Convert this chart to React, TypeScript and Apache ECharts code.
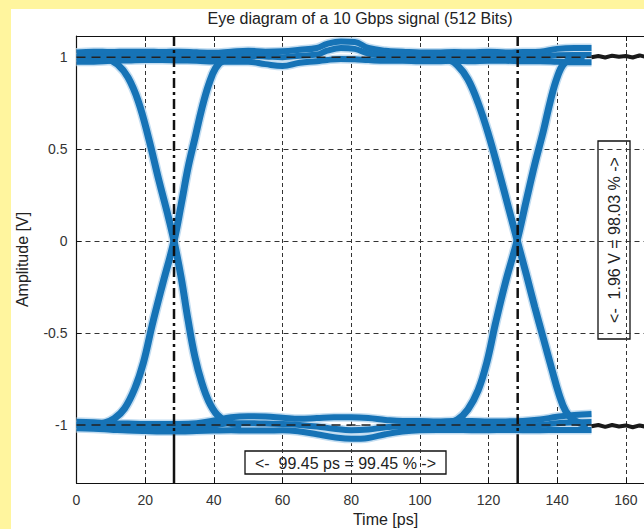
import React, { useEffect, useRef } from "react";
import * as echarts from "echarts";

const titleText = "Eye diagram of a 10 Gbps signal (512 Bits)";
const xName = "Time [ps]";
const yName = "Amplitude [V]";
const eyeWidthLabel = "<-  99.45 ps = 99.45 % ->";
const eyeHeightLabel = "<-  1.96 V = 98.03 % ->";

// x positions (ps) where the "1" level band was read
const levelX = [0, 5, 10, 15, 20, 25, 30, 35, 40, 45, 50, 55, 60, 65, 70, 73, 77, 81, 85, 90, 95, 100, 105, 110, 115, 120, 125, 130, 135, 140, 145, 150];
// "1" level traces (V)
const topUpper = [1.026, 1.03, 1.028, 1.03, 1.03, 1.028, 1.03, 1.026, 1.024, 1.03, 1.035, 1.03, 1.032, 1.04, 1.05, 1.072, 1.085, 1.082, 1.05, 1.035, 1.03, 1.025, 1.025, 1.028, 1.026, 1.03, 1.025, 1.028, 1.03, 1.045, 1.05, 1.05];
const topMid = [1.0, 1.002, 1.004, 1.006, 1.008, 1.006, 1.005, 1.003, 1.0, 1.002, 1.006, 1.004, 1.0, 1.008, 1.014, 1.035, 1.05, 1.045, 1.02, 1.008, 1.005, 1.002, 1.0, 1.002, 1.0, 1.003, 1.002, 1.0, 1.002, 1.01, 1.012, 1.012];
const topLower = [0.975, 0.975, 0.98, 0.982, 0.985, 0.985, 0.982, 0.98, 0.976, 0.975, 0.975, 0.962, 0.952, 0.97, 0.978, 0.985, 0.99, 0.988, 0.984, 0.98, 0.98, 0.978, 0.978, 0.98, 0.978, 0.98, 0.98, 0.978, 0.978, 0.975, 0.972, 0.972];
// "-1" level traces (V)
const botX = [0, 5, 10, 15, 20, 25, 30, 35, 40, 45, 50, 55, 60, 65, 70, 75, 80, 85, 90, 95, 100, 105, 110, 115, 120, 125, 130, 135, 140, 145, 150];
const botUpper = [-0.982, -0.985, -0.99, -0.992, -0.994, -0.994, -0.994, -0.99, -0.975, -0.958, -0.952, -0.954, -0.96, -0.966, -0.962, -0.958, -0.958, -0.962, -0.972, -0.978, -0.978, -0.98, -0.978, -0.978, -0.98, -0.98, -0.978, -0.97, -0.955, -0.945, -0.94];
const botMid = [-1.0, -1.002, -1.006, -1.01, -1.012, -1.014, -1.014, -1.012, -1.002, -0.99, -0.99, -0.992, -0.994, -1.0, -1.008, -1.02, -1.028, -1.024, -1.012, -1.006, -1.003, -1.003, -1.002, -1.003, -1.004, -1.003, -1.003, -1.0, -0.99, -0.986, -0.984];
const botLower = [-1.018, -1.02, -1.025, -1.03, -1.033, -1.035, -1.035, -1.033, -1.03, -1.028, -1.03, -1.03, -1.028, -1.035, -1.05, -1.066, -1.075, -1.07, -1.05, -1.035, -1.028, -1.027, -1.027, -1.028, -1.028, -1.027, -1.028, -1.028, -1.027, -1.027, -1.027];

// transitions [ps, V]
const fall1 = [[5, 1.0], [9, 0.99], [12, 0.96], [15, 0.89], [18, 0.76], [21, 0.56], [24, 0.33], [26.5, 0.15], [28.4, 0], [30.5, -0.2], [32.5, -0.43], [34.5, -0.63], [36.5, -0.77], [38.5, -0.87], [41, -0.945], [44, -0.985], [48, -1.0]];
const rise1 = [[4, -1.0], [8, -0.99], [11, -0.965], [14, -0.91], [17, -0.8], [19.5, -0.66], [22, -0.46], [25, -0.24], [28.4, 0], [30.5, 0.2], [32.5, 0.4], [34.5, 0.56], [36.5, 0.72], [38.5, 0.85], [40.5, 0.94], [43, 0.985], [47, 1.0]];
const fall2 = [[104, 1.0], [108, 0.99], [111, 0.955], [114, 0.88], [117, 0.75], [120, 0.58], [123, 0.38], [126, 0.17], [128.4, 0], [131, -0.18], [133.5, -0.36], [136, -0.53], [138.5, -0.7], [140.5, -0.83], [142.5, -0.925], [145, -0.975], [149, -1.0]];
const rise2 = [[104, -1.0], [108, -0.99], [111, -0.97], [114, -0.915], [117, -0.81], [119.5, -0.66], [122, -0.45], [125, -0.22], [128.3, 0], [131, 0.22], [133.5, 0.42], [136, 0.6], [138, 0.76], [140, 0.89], [142, 0.965], [145, 0.995], [148, 1.0]];

// black tails after 150 ps
const tailX = [150, 152, 154, 156, 158, 160, 162, 164, 166, 168, 170];
const tailTop = [1.0, 1.006, 0.998, 1.008, 1.002, 1.006, 0.998, 1.01, 1.0, 1.008, 1.004];
const tailBot = [-1.006, -1.0, -1.01, -1.0, -1.008, -1.002, -1.012, -1.002, -1.01, -1.004, -1.008];

// markers
const crossX = [28.4, 128.5];
const levels = [1, -1];
const levelEnd = 150;
const solidFrom = -1.05;

const X_MIN = 0, X_MAX = 180, X_STEP = 20;
const Y_MIN = -1.315, Y_MAX = 1.115;

const BLUE = "#1673b6";
const HALO = "#c3ddf1";
const zip = (xs: number[], ys: number[]) => xs.map((x, i) => [x, ys[i]]);

export default function App() {
  const ref = useRef<HTMLDivElement>(null);
  useEffect(() => {
    if (!ref.current) return;
    const chart = echarts.init(ref.current, null, { renderer: "svg" });
    const font = "'Liberation Sans', Arial, sans-serif";
    const traces: { data: number[][]; w: number }[] = [
      { data: zip(levelX, topUpper), w: 6 },
      { data: zip(levelX, topMid), w: 6 },
      { data: zip(levelX, topLower), w: 6 },
      { data: zip(botX, botUpper), w: 6 },
      { data: zip(botX, botMid), w: 6 },
      { data: zip(botX, botLower), w: 6 },
      { data: fall1, w: 7 },
      { data: rise1, w: 7 },
      { data: fall2, w: 7 },
      { data: rise2, w: 7 },
    ];
    const line = (data: number[][], color: string, width: number, z: number) => ({
      type: "line",
      data,
      symbol: "none",
      smooth: 0.4,
      z,
      silent: true,
      lineStyle: { color, width, cap: "butt" },
    });
    const series: any[] = [
      ...traces.map((t) => line(t.data, HALO, t.w + 3, 1)),
      ...traces.map((t) => line(t.data, BLUE, t.w, 2)),
      {
        type: "line", data: zip(tailX, tailTop), symbol: "none", z: 3, silent: true,
        lineStyle: { color: "#1a1a1a", width: 4 },
      },
      {
        type: "line", data: zip(tailX, tailBot), symbol: "none", z: 3, silent: true,
        lineStyle: { color: "#1a1a1a", width: 4 },
      },
    ];
    levels.forEach((lv) => {
      series.push({
        type: "line", data: [[X_MIN, lv], [levelEnd, lv]], symbol: "none", z: 4, silent: true,
        lineStyle: { color: "#222", width: 1.5, type: [9, 6] },
      });
    });
    crossX.forEach((cx) => {
      series.push({
        type: "line", data: [[cx, Y_MAX], [cx, solidFrom]], symbol: "none", z: 4, silent: true,
        lineStyle: { color: "#111", width: 2.5, type: [10, 4, 3, 4] },
      });
      series.push({
        type: "line", data: [[cx, solidFrom], [cx, Y_MIN]], symbol: "none", z: 4, silent: true,
        lineStyle: { color: "#111", width: 2.5 },
      });
    });

    chart.setOption({
      animation: false,
      backgroundColor: "transparent",
      title: {
        text: titleText,
        left: 360,
        top: 10,
        padding: 0,
        textAlign: "center",
        textStyle: { fontFamily: font, fontSize: 16, fontWeight: "normal", color: "#222" },
      },
      grid: { left: 76.5, top: 36, width: 618, height: 447, outerBoundsMode: "none", containLabel: false },
      xAxis: [
        {
          type: "value", min: X_MIN, max: X_MAX, interval: X_STEP,
          name: xName, nameLocation: "middle", nameGap: 28,
          nameTextStyle: { fontFamily: font, fontSize: 16, color: "#222" },
          axisLine: { show: true, onZero: false, lineStyle: { color: "#111", width: 1.2 } },
          axisTick: { show: true, inside: true, length: 5, lineStyle: { color: "#111" } },
          axisLabel: { fontFamily: font, fontSize: 14, color: "#333", margin: 10, showMaxLabel: false },
          splitLine: { show: true, lineStyle: { color: "#333", width: 1, type: [4, 3] } },
        },
        {
          type: "value", min: X_MIN, max: X_MAX, interval: X_STEP, position: "top",
          axisLine: { show: true, onZero: false, lineStyle: { color: "#111", width: 1.2 } },
          axisTick: { show: true, inside: true, length: 5, lineStyle: { color: "#111" } },
          axisLabel: { show: false },
          splitLine: { show: false },
        },
      ],
      yAxis: {
        type: "value", min: Y_MIN, max: Y_MAX,
        name: yName, nameLocation: "middle", nameGap: 46,
        nameTextStyle: { fontFamily: font, fontSize: 16, color: "#222" },
        axisLine: { show: true, onZero: false, lineStyle: { color: "#111", width: 1.2 } },
        axisTick: { show: true, inside: true, length: 5, lineStyle: { color: "#111" } },
        axisLabel: { fontFamily: font, fontSize: 14, color: "#333", margin: 9, showMinLabel: false, showMaxLabel: false },
        splitLine: { show: true, lineStyle: { color: "#333", width: 1, type: [5, 4] } },
      },
      series,
      graphic: [
        {
          type: "group", z: 100,
          children: [
            { type: "rect", shape: { x: 245, y: 451, width: 201, height: 23 }, style: { fill: "#fff", stroke: "#111", lineWidth: 1.3 } },
            { type: "text", x: 345.5, y: 463, style: { text: eyeWidthLabel, align: "center", verticalAlign: "middle", font: `16px ${font}`, fill: "#222" } },
            { type: "rect", shape: { x: 598, y: 141, width: 32, height: 198 }, style: { fill: "#fff", stroke: "#111", lineWidth: 1.3 } },
            { type: "text", x: 614, y: 240, rotation: Math.PI / 2, style: { text: eyeHeightLabel, align: "center", verticalAlign: "middle", font: `16px ${font}`, fill: "#222" } },
          ],
        },
      ],
    });
    return () => chart.dispose();
  }, []);

  return (
    <div style={{ position: "fixed", left: 0, top: 0, width: 644, height: 529, background: "#fff59e", overflow: "hidden" }}>
      <div style={{ position: "absolute", left: 11, top: 9, width: 633, height: 520, background: "#ffffff" }} />
      <div ref={ref} style={{ position: "absolute", left: 0, top: 0, width: 644, height: 529 }} />
    </div>
  );
}
